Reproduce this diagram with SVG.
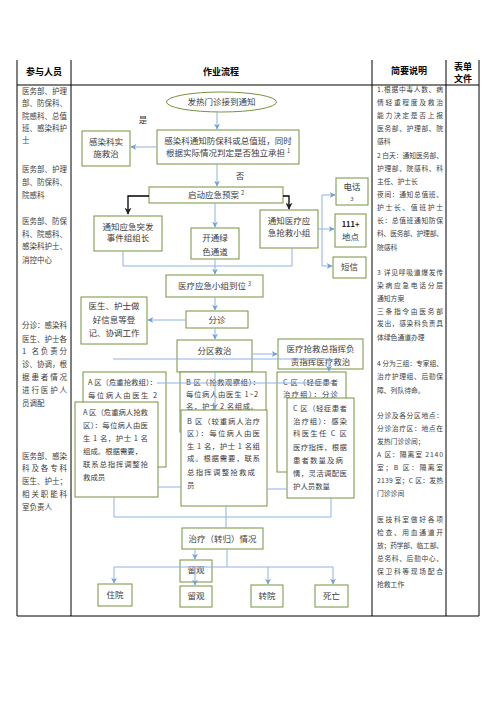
<svg xmlns="http://www.w3.org/2000/svg" width="496" height="702" viewBox="0 0 496 702">
<style>
text{font-family:"Noto Sans CJK SC","Noto Sans",sans-serif;fill:#3c3c3c}
.h{font-size:9px;font-weight:bold;fill:#000;text-anchor:middle}
.l{font-size:7.5px}
.r{font-size:6.8px}
.f{font-size:8.5px;text-anchor:middle}
.z{font-size:7.4px}
.s{font-size:5.5px}
.b{fill:#fff;stroke:#77933c;stroke-width:1}
.t{stroke:#000;stroke-width:1;fill:none}
.c{stroke:#8db3e2;stroke-width:1;fill:none}
.k{stroke:#000;stroke-width:1.3;fill:none}
</style>
<defs>
<marker id="a" viewBox="0 0 10 10" refX="9" refY="5" markerWidth="6" markerHeight="6" orient="auto" markerUnits="userSpaceOnUse"><path d="M0,0 L10,5 L0,10 L3,5 z" fill="#6f9fd8"/></marker>
<marker id="ak" viewBox="0 0 10 10" refX="9" refY="5" markerWidth="7" markerHeight="7" orient="auto" markerUnits="userSpaceOnUse"><path d="M0,0 L10,5 L0,10 L3,5 z" fill="#222"/></marker>
</defs>
<rect width="496" height="702" fill="#fff"/>
<g id="table">
<path class="t" d="M17,60V616M71,60V616M372,60V616M446,60V616M479,60V616M17,85H479M17,616H479"/>
<text class="h" x="44" y="75">参与人员</text>
<text class="h" x="221" y="75">作业流程</text>
<text class="h" x="409" y="74">简要说明</text>
<text class="h" x="463" y="70">表单</text>
<text class="h" x="463" y="82">文件</text>
</g>
<g id="participants" class="l">
<text x="22" y="93.7" textLength="45">医务部、护理</text>
<text x="22" y="106.1" textLength="45">部、防保科、</text>
<text x="22" y="118.5" textLength="45">院感科、总值</text>
<text x="22" y="130.9" textLength="45">班、感染科护</text>
<text x="22" y="143.3">士</text>
<text x="22" y="172" textLength="45">医务部、护理</text>
<text x="22" y="185.3" textLength="45">部、防保科、</text>
<text x="22" y="197.7">院感科</text>
<text x="22" y="224.4" textLength="45">医务部、防保</text>
<text x="22" y="236.8" textLength="45">科、院感科、</text>
<text x="22" y="249.4" textLength="45">感染科护士、</text>
<text x="22" y="262.7">消控中心</text>
<text x="22" y="328.4" textLength="45">分诊：感染科</text>
<text x="22" y="341.7" textLength="45">医生、护士各</text>
<text x="22" y="354.4" textLength="45">1 名负责分</text>
<text x="22" y="367" textLength="45">诊、协调，根</text>
<text x="22" y="380" textLength="45">据患者情况</text>
<text x="22" y="392.7" textLength="45">进行医护人</text>
<text x="22" y="406">员调配</text>
<text x="22" y="458.7" textLength="45">医务部、感染</text>
<text x="22" y="471" textLength="45">科及各专科</text>
<text x="22" y="484.4" textLength="45">医生、护士；</text>
<text x="22" y="497" textLength="45">相关职能科</text>
<text x="22" y="510">室负责人</text>
</g>
<g id="notes" class="r">
<text x="377" y="92.4" textLength="66">1.根据中毒人数、病</text>
<text x="377" y="105.4" textLength="66">情轻重程度及救治</text>
<text x="377" y="118.4" textLength="66">能力决定是否上报</text>
<text x="377" y="131.4" textLength="66">医务部、护理部、院</text>
<text x="377" y="144.4">感科</text>
<text x="377" y="157.9" textLength="66">2 白天：通知医务部、</text>
<text x="377" y="170.9" textLength="66">护理部、院感科、科</text>
<text x="377" y="183.9">主任、护士长</text>
<text x="377" y="196.9" textLength="66">夜间：通知总值班、</text>
<text x="377" y="209.9" textLength="66">护士长、值班护士</text>
<text x="377" y="223.4" textLength="66">长：总值班通知防保</text>
<text x="377" y="236.4" textLength="66">科、医务部、护理部、</text>
<text x="377" y="250.4">院感科</text>
<text x="377" y="275.4" textLength="66">3 详见呼吸道爆发传</text>
<text x="377" y="288.4" textLength="66">染病应急电话分层</text>
<text x="377" y="301.4">通知方案</text>
<text x="377" y="314.4" textLength="66">三条指令由医务部</text>
<text x="377" y="326.4" textLength="66">发出，感染科负责具</text>
<text x="377" y="340.4">体绿色通道办理</text>
<text x="377" y="366.4" textLength="66">4 分为三组：专家组、</text>
<text x="377" y="379.4" textLength="66">治疗护理组、后勤保</text>
<text x="377" y="393.4">障、列队待命。</text>
<text x="377" y="418.4" textLength="66">分诊及各分区地点：</text>
<text x="377" y="431.4" textLength="66">分诊治疗区：地点在</text>
<text x="377" y="444.4">发热门诊诊间；</text>
<text x="377" y="457.4" textLength="66">A 区：隔离室 2140</text>
<text x="377" y="470.4" textLength="66">室；B 区：隔离室</text>
<text x="377" y="483.4" textLength="66">2139 室；C 区：发热</text>
<text x="377" y="496.4">门诊诊间</text>
<text x="377" y="522.4" textLength="66">医技科室做好各项</text>
<text x="377" y="535.4" textLength="66">检查、用血通道开</text>
<text x="377" y="548.4" textLength="66">放；药学部、临工部、</text>
<text x="377" y="561.4" textLength="66">总务科、后勤中心、</text>
<text x="377" y="574.4" textLength="66">保卫科等现场配合</text>
<text x="377" y="587.4">抢救工作</text>
</g>
<g id="n-start"><ellipse class="b" cx="221.5" cy="102" rx="55" ry="10"/><text class="f" x="221.5" y="105">发热门诊接到通知</text></g>
<g id="lbl-yes"><text class="f" x="143" y="123">是</text></g>
<g id="lbl-no"><text class="f" x="240" y="179">否</text></g>
<g id="n-notify"><rect class="b" x="157" y="130" width="142" height="34"/><text class="f" x="228" y="144">感染科通知防保科或总值班，同时</text><text class="f" x="228" y="156">根据实际情况判定是否独立承担 <tspan class="s" dy="-3">1</tspan></text></g>
<g id="n-self"><rect class="b" x="82" y="131" width="48" height="35"/><text class="f" x="106" y="145">感染科实</text><text class="f" x="106" y="157">施救治</text></g>
<g id="n-plan"><rect class="b" x="149" y="187" width="134" height="16"/><text class="f" x="216" y="198">启动应急预案 <tspan class="s" dy="-3">2</tspan></text></g>
<g id="n-leader"><rect class="b" x="94" y="216" width="68" height="35"/><text class="f" x="128" y="230">通知应急突发</text><text class="f" x="128" y="241">事件组组长</text></g>
<g id="n-green"><rect class="b" x="191" y="228" width="48" height="31"/><text class="f" x="215" y="241">开通绿</text><text class="f" x="215" y="255">色通道</text></g>
<g id="n-team"><rect class="b" x="260" y="210" width="58" height="38"/><text class="f" x="289" y="224">通知医疗应</text><text class="f" x="289" y="236">急抢救小组</text></g>
<g id="n-phone"><rect class="b" x="336" y="178" width="32" height="27"/><text class="f" x="352" y="190">电话</text><text class="s" x="352" y="201" text-anchor="middle">3</text></g>
<g id="n-111"><rect class="b" x="335" y="214" width="31" height="33"/><text class="f" x="350.5" y="227" style="font-weight:bold;font-size:7.5px;fill:#222">111+</text><text class="f" x="350.5" y="240">地点</text></g>
<g id="n-sms"><rect class="b" x="333" y="257" width="33" height="21"/><text class="f" x="349.5" y="270">短信</text></g>
<g id="n-arrive"><rect class="b" x="166" y="275" width="97" height="22"/><text class="f" x="214.5" y="289">医疗应急小组到位 <tspan class="s" dy="-3">3</tspan></text></g>
<g id="n-triage"><rect class="b" x="186" y="311" width="62" height="17"/><text class="f" x="217" y="322.5">分诊</text></g>
<g id="n-record"><rect class="b" x="81" y="297" width="66" height="47"/><text class="f" x="114" y="309">医生、护士做</text><text class="f" x="114" y="323">好信息等登</text><text class="f" x="114" y="336">记、协调工作</text></g>
<g id="n-zone"><rect class="b" x="177" y="340" width="75" height="32"/><text class="f" x="214.5" y="354">分区救治</text></g>
<g id="n-command"><rect class="b" x="278" y="339" width="85" height="30"/><text class="f" x="320.5" y="352">医疗抢救总指挥负</text><text class="f" x="320.5" y="365">责指挥医疗救治</text></g>
<g id="n-a-back" class="z"><rect class="b" x="83" y="372" width="83" height="95"/><text x="88" y="384.7" textLength="69">A 区（危重抢救组）：</text><text x="88" y="397.7" textLength="69">每位病人由医生 2</text></g>
<g id="n-b-back" class="z"><rect class="b" x="180" y="372" width="86" height="60"/><text x="186" y="384.7" textLength="74">B 区（抢救观察组）：</text><text x="186" y="396.7" textLength="72">每位病人由医生 1~2</text><text x="186" y="408.7" textLength="72">名，护士 2 名组成。</text></g>
<g id="n-c-back" class="z"><rect class="b" x="277" y="372" width="69" height="100"/><text x="283" y="384.7" textLength="55">C 区（轻症患者</text><text x="283" y="396.7" textLength="55">治疗组）：分诊</text></g>
<g id="n-a" class="z"><rect class="b" x="75" y="402" width="83" height="95"/><text x="83" y="414.7" textLength="65">A 区（危重病人抢救</text><text x="83" y="427.7" textLength="65">区）：每位病人由医</text><text x="83" y="440.7" textLength="65">生 1 名，护士 1 名</text><text x="83" y="453.7">组成。根据需要，</text><text x="83" y="466.7" textLength="65">联系总指挥调整抢</text><text x="83" y="479.7">救成员</text></g>
<g id="n-b" class="z"><rect class="b" x="181" y="410" width="86" height="96"/><text x="187" y="423.7" textLength="73">B 区（较重病人治疗</text><text x="187" y="435.7" textLength="73">区）：每位病人由医</text><text x="187" y="448.7" textLength="73">生 1 名，护士 1 名组</text><text x="187" y="460.7" textLength="73">成。根据需要，联系</text><text x="187" y="474.7" textLength="68">总指挥调整抢救成</text><text x="187" y="487.7">员</text></g>
<g id="n-c" class="z"><rect class="b" x="287" y="398" width="67" height="100"/><text x="293" y="410.7" textLength="54">C 区（轻症患者</text><text x="293" y="423.7" textLength="54">治疗组）：感染</text><text x="293" y="435.7" textLength="54">科医生任 C 区</text><text x="293" y="449.7" textLength="54">医疗指挥，根据</text><text x="293" y="462.7" textLength="50">患者数量及病</text><text x="293" y="475.7" textLength="54">情，灵活调配医</text><text x="293" y="488.7">护人员数量</text></g>
<g id="n-outcome"><rect class="b" x="182" y="528" width="81" height="21"/><text class="f" x="222.5" y="542">治疗（转归）情况</text></g>
<g id="n-obs1"><rect class="b" x="180" y="560" width="32" height="22"/><text class="f" x="196" y="573">留观</text></g>
<g id="n-obs2"><rect class="b" x="180" y="586" width="32" height="21"/><text class="f" x="196" y="599">留观</text></g>
<g id="n-admit"><rect class="b" x="98" y="584" width="34" height="22"/><text class="f" x="115" y="598">住院</text></g>
<g id="n-transfer"><rect class="b" x="251" y="585" width="32" height="22"/><text class="f" x="267" y="599">转院</text></g>
<g id="n-death"><rect class="b" x="315" y="585" width="33" height="22"/><text class="f" x="331.5" y="599">死亡</text></g>
<g id="connectors">
<path class="c" d="M217,112V129" marker-end="url(#a)"/>
<path class="c" d="M157,147H131" marker-end="url(#a)"/>
<path class="c" d="M217,164V186" marker-end="url(#a)"/>
<path class="k" d="M149,196H128V214" marker-end="url(#ak)"/>
<path class="k" d="M283,196H289V209" marker-end="url(#ak)"/>
<path class="c" d="M215,203V227" marker-end="url(#a)"/>
<path class="c" d="M318,229H322M322,195V266"/>
<path class="c" d="M322,195H335" marker-end="url(#a)"/>
<path class="c" d="M322,229H334" marker-end="url(#a)"/>
<path class="c" d="M322,266H332" marker-end="url(#a)"/>
<path class="c" d="M123,251V266H292V248"/>
<path class="c" d="M215,259V274" marker-end="url(#a)"/>
<path class="c" d="M215,297V310" marker-end="url(#a)"/>
<path class="c" d="M186,320H148" marker-end="url(#a)"/>
<path class="c" d="M215,328V339" marker-end="url(#a)"/>
<path class="c" d="M252,354H277" marker-end="url(#a)"/>
<path class="c" d="M113,359H329V371" marker-end="url(#a)"/>
<path class="c" d="M157,383H331"/>
<path class="c" d="M215,372V409" marker-end="url(#a)"/>
<path class="c" d="M158,487H181M267,489H287"/>
<path class="c" d="M114,497V517H331V498M226,506V528"/>
<path class="c" d="M195,549V559" marker-end="url(#a)"/>
<path class="c" d="M227,549V567M114,567H333"/>
<path class="c" d="M114,567V583" marker-end="url(#a)"/>
<path class="c" d="M195,567V585" marker-end="url(#a)"/>
<path class="c" d="M268,567V584" marker-end="url(#a)"/>
<path class="c" d="M333,567V584" marker-end="url(#a)"/>
</g>
</svg>
